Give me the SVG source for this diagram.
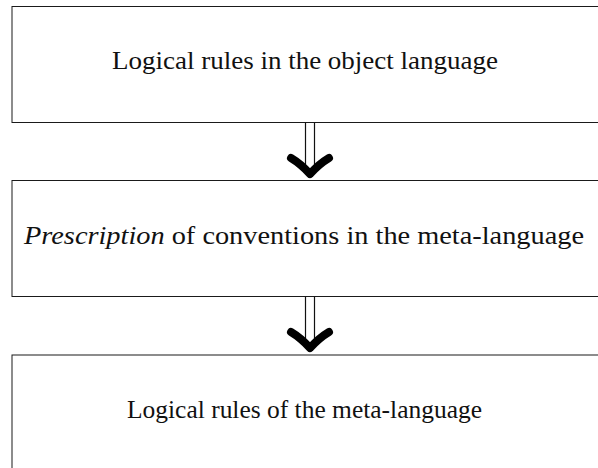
<svg xmlns="http://www.w3.org/2000/svg" width="598" height="468" viewBox="0 0 598 468">
  <style>
    .box { fill: #fff; stroke: #1a1a1a; stroke-width: 1; }
    .label { font-family: "Liberation Serif", "DejaVu Serif", serif; font-size: 25px; fill: #111; text-anchor: middle; }
    .shaft { stroke: #111; stroke-width: 1.2; fill: none; }
    .head { stroke: #000; stroke-width: 8; stroke-linecap: round; stroke-linejoin: round; fill: none; }
  </style>
  <rect width="598" height="468" fill="#fff"/>

  <g id="node-object-rules">
    <rect class="box" x="12" y="6.5" width="588" height="116"/>
    <text class="label" x="305" y="69" textLength="386" lengthAdjust="spacingAndGlyphs">Logical rules in the object language</text>
  </g>

  <g id="node-prescription">
    <rect class="box" x="12" y="180.5" width="588" height="116"/>
    <text class="label" x="304" y="244" textLength="560" lengthAdjust="spacingAndGlyphs"><tspan font-style="italic">Prescription</tspan> of conventions in the meta-language</text>
  </g>

  <g id="node-meta-rules">
    <rect class="box" x="12" y="355" width="588" height="118"/>
    <text class="label" x="304.5" y="418" textLength="355" lengthAdjust="spacingAndGlyphs">Logical rules of the meta-language</text>
  </g>

  <g id="connectors">
    <g id="implies-1">
      <line class="shaft" x1="305.5" y1="122.5" x2="305.5" y2="168"/>
      <line class="shaft" x1="314.5" y1="122.5" x2="314.5" y2="168"/>
      <path class="head" d="M291,158 Q301,164 310,174 Q319,164 329,158"/>
    </g>
    <g id="implies-2">
      <line class="shaft" x1="305.5" y1="296.5" x2="305.5" y2="342"/>
      <line class="shaft" x1="314.5" y1="296.5" x2="314.5" y2="342"/>
      <path class="head" d="M291,332 Q301,338 310,348 Q319,338 329,332"/>
    </g>
  </g>
</svg>
